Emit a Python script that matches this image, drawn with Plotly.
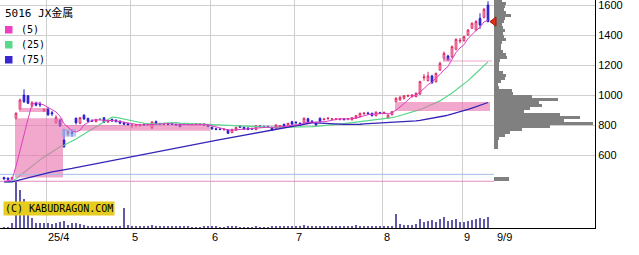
import numpy as np
import pandas as pd
import plotly.graph_objects as go

# ---------------- data ----------------
title_text = "5016 JX金属"
opens = [450, 446, 440, 845, 905, 1000, 995, 927, 945, 940,
         893, 905, 882, 815, 833, 700, 742, 750, 845, 812,
         865, 843, 830, 822, 838, 848, 820, 838, 832, 826,
         815, 810, 797, 797, 797, 805, 802, 780, 822, 808,
         803, 808, 810, 803, 805, 808, 807, 803, 808, 803,
         805, 798, 785, 775, 773, 768, 767, 750, 765, 792,
         785, 780, 775, 770, 792, 790, 789, 783, 771, 780,
         804, 786, 822, 818, 811, 818, 842, 826, 818, 845,
         836, 842, 838, 838, 837, 840, 838, 835, 845, 855,
         875, 880, 878, 862, 882, 880, 846, 868, 955, 967,
         978, 993, 990, 989, 1007, 1115, 1096, 1127, 1089, 1167,
         1245, 1260, 1255, 1305, 1360, 1362, 1400, 1445, 1433, 1511,
         1518, 1600]
highs = [455, 450, 455, 885, 975, 1038, 1000, 960, 955, 955,
         910, 918, 893, 865, 840, 775, 762, 762, 850, 853,
         872, 850, 838, 842, 845, 852, 835, 842, 838, 830,
         820, 815, 805, 805, 808, 812, 812, 825, 830, 815,
         812, 815, 815, 808, 810, 812, 812, 812, 812, 810,
         810, 802, 790, 782, 780, 778, 772, 775, 790, 798,
         790, 785, 782, 800, 800, 795, 795, 790, 805, 800,
         810, 815, 828, 825, 818, 850, 848, 832, 822, 850,
         845, 850, 846, 846, 845, 845, 846, 852, 865, 882,
         885, 888, 882, 890, 888, 888, 870, 893, 985, 992,
         1000, 1003, 1005, 1018, 1095, 1140, 1155, 1135, 1150, 1222,
         1290, 1268, 1330, 1378, 1380, 1395, 1440, 1485, 1500, 1545,
         1580, 1625]
lows = [436, 434, 436, 835, 900, 948, 940, 915, 925, 920,
        888, 862, 860, 808, 788, 648, 725, 722, 803, 805,
        835, 818, 820, 818, 832, 815, 815, 822, 818, 805,
        800, 795, 780, 785, 788, 795, 795, 775, 803, 800,
        798, 800, 800, 795, 785, 800, 800, 798, 800, 798,
        795, 785, 768, 765, 765, 762, 740, 745, 760, 780,
        768, 765, 768, 765, 785, 780, 780, 760, 768, 775,
        780, 783, 800, 808, 792, 812, 818, 815, 795, 818,
        830, 835, 832, 832, 830, 830, 832, 830, 840, 850,
        868, 870, 858, 858, 872, 872, 842, 865, 953, 960,
        970, 985, 982, 985, 1000, 1095, 1090, 1075, 1082, 1160,
        1232, 1228, 1245, 1298, 1345, 1355, 1395, 1440, 1425, 1440,
        1510, 1485]
closes = [440, 438, 450, 878, 967, 955, 945, 948, 932, 935,
          905, 868, 875, 851, 793, 655, 758, 745, 815, 849,
          840, 825, 826, 836, 838, 818, 832, 826, 822, 812,
          805, 800, 800, 801, 800, 802, 806, 820, 808, 805,
          807, 805, 804, 800, 789, 805, 805, 807, 805, 807,
          800, 790, 775, 771, 770, 772, 745, 771, 783, 785,
          772, 770, 773, 793, 789, 787, 786, 766, 800, 796,
          786, 811, 805, 815, 796, 845, 822, 822, 800, 822,
          840, 846, 841, 841, 841, 836, 842, 849, 862, 878,
          879, 876, 862, 886, 878, 884, 866, 889, 978, 985,
          995, 996, 1000, 1011, 1089, 1120, 1127, 1082, 1144, 1211,
          1278, 1233, 1322, 1371, 1364, 1389, 1433, 1478, 1489, 1467,
          1571, 1489]
volumes = [20, 20, 100, 912, 760, 580, 360, 200, 110, 110,
           100, 100, 90, 100, 130, 140, 70, 110, 110, 80,
           70, 50, 40, 40, 40, 40, 30, 30, 30, 30,
           400, 60, 40, 30, 30, 30, 30, 60, 40, 30,
           25, 30, 25, 25, 35, 25, 25, 20, 20, 20,
           25, 25, 30, 25, 20, 20, 30, 25, 25, 20,
           20, 20, 20, 25, 20, 20, 20, 25, 30, 25,
           25, 50, 30, 25, 30, 65, 35, 25, 30, 45,
           50, 40, 30, 25, 25, 25, 30, 35, 60, 50,
           40, 30, 30, 35, 40, 30, 35, 45, 280, 80,
           70, 60, 60, 90, 180, 120, 140, 160, 120, 180,
           220, 140, 160, 180, 120, 120, 140, 160, 180, 200,
           180, 220]

month_labels = ["25/4", "5", "6", "7", "8", "9"]
month_start_idx = [11, 32, 52, 73, 95, 115]
last_date_label = "9/9"

ma_periods = [5, 25, 75]
ma_seed_close = 420  # price level assumed before the first bar

# price-volume profile (price bin centre, volume)
profile_prices = [1630, 1610, 1590, 1570, 1550, 1530, 1510, 1490, 1470, 1450,
                  1430, 1410, 1390, 1370, 1350, 1330, 1310, 1290, 1270, 1250,
                  1230, 1210, 1190, 1170, 1150, 1130, 1110, 1090, 1070, 1050,
                  1030, 1010, 990, 970, 950, 930, 910, 890, 870, 850,
                  830, 810, 790, 770, 750, 730, 710, 690, 670, 650, 440]
profile_volumes = [8, 12, 11, 10, 12, 17, 11, 10, 8, 9,
                   11, 9, 10, 12, 8, 7, 7, 9, 12, 13,
                   6, 5, 5, 5, 9, 12, 11, 7, 4, 5,
                   18, 19, 38, 64, 45, 48, 36, 30, 66, 86,
                   70, 99, 56, 28, 16, 11, 5, 4, 4, 4, 15]

# unfilled price gaps ("windows")
gap_from = [2.75, 3.75, 14.75, 97.75, 109.75, 109.75, 14.5]
gap_to = [14.75, 10.75, 51.5, 121.5, 122.0, 111.75, 18.0]
gap_low = [450, 887, 762, 893, 1224, 1222, 722]
gap_high = [845, 913, 800, 953, 1230, 1245, 772]
gap_up = [True, True, True, True, True, True, False]

ref_levels = [471, 425]

# ---------------- styles ----------------
UP = "#e0205e"
DOWN = "#2a1cd4"
DOJI = "#1fae4a"
MA_COL = {5: "#e03cc2", 25: "#5bd68c", 75: "#3424b8"}
LEG_COL = {5: "#ee3fbf", 25: "#5ad98b", 75: "#3a26d0"}
REF_COL = ["#a3bfea", "#e48cbc"]
GRID = "#cfcfcf"
PLOT_W, PLOT_H = 595, 228

n = len(closes)
idx = np.arange(n)
o = np.array(opens, float); h = np.array(highs, float)
l = np.array(lows, float); c = np.array(closes, float)

seed = [ma_seed_close] * (max(ma_periods) - 1)
ext = pd.Series(seed + closes, dtype=float)
ma = {p: ext.rolling(p).mean().to_numpy()[len(seed):] for p in ma_periods}

fig = go.Figure()

# MA25 (under the gap windows)
fig.add_trace(go.Scatter(x=idx, y=ma[25], mode="lines",
                         line=dict(color=MA_COL[25], width=1.2)))

# gap windows
for up_flag, fillc in [(True, "rgba(232,110,170,0.6)"), (False, "rgba(138,172,230,0.6)")]:
    xs, ys = [], []
    for x0, x1, lo, hi, u in zip(gap_from, gap_to, gap_low, gap_high, gap_up):
        if u != up_flag:
            continue
        xs += [x0, x1, x1, x0, x0, None]
        ys += [lo, lo, hi, hi, lo, None]
    fig.add_trace(go.Scatter(x=xs, y=ys, mode="lines", fill="toself",
                             fillcolor=fillc, line=dict(width=0)))

# reference horizontal lines
for lev, col in zip(ref_levels, REF_COL):
    fig.add_trace(go.Scatter(x=[-1, n + 0.5], y=[lev, lev], mode="lines",
                             line=dict(color=col, width=1)))

# MA75
fig.add_trace(go.Scatter(x=idx, y=ma[75], mode="lines",
                         line=dict(color=MA_COL[75], width=1.3)))

# candles
masks = [(c > o, UP, "white", UP), (c < o, DOWN, DOWN, DOWN), (c == o, DOJI, DOJI, DOJI)]
for m, lc, fc_up, fc_dn in masks:
    if not m.any():
        continue
    fig.add_trace(go.Candlestick(
        x=idx[m], open=o[m], high=h[m], low=l[m], close=c[m],
        increasing=dict(line=dict(color=lc, width=1), fillcolor=fc_up),
        decreasing=dict(line=dict(color=lc, width=1), fillcolor=fc_dn),
        whiskerwidth=0, hoverinfo="skip"))

# MA5
fig.add_trace(go.Scatter(x=idx, y=ma[5], mode="lines",
                         line=dict(color=MA_COL[5], width=1)))

# volume bars
fig.add_trace(go.Bar(x=idx, y=volumes, xaxis="x", yaxis="y2", width=0.25,
                     marker=dict(color="#6058a8", line=dict(width=0))))

# volume profile
fig.add_trace(go.Bar(y=profile_prices, x=profile_volumes, base=0, orientation="h",
                     xaxis="x2", yaxis="y", width=21,
                     marker=dict(color="#808080", line=dict(width=0))))

# current price marker
fig.add_trace(go.Scatter(x=[0], y=[closes[-1]], xaxis="x2", yaxis="y", mode="markers",
                         marker=dict(symbol="triangle-left", size=8, color="#e0301a",
                                     line=dict(color="#a01808", width=1))))

# ---------------- annotations ----------------
ann = []
for lab, m in zip(month_labels, month_start_idx):
    ann.append(dict(x=m - 0.5, xref="x", y=0, yref="paper", text=lab, showarrow=False,
                    xanchor="left", yanchor="top", xshift=0, yshift=-1,
                    font=dict(family="Liberation Sans", size=11, color="black")))
ann.append(dict(x=1, xref="x2", y=0, yref="paper", text=last_date_label, showarrow=False,
                xanchor="left", yanchor="top", yshift=-1,
                font=dict(family="Liberation Sans", size=11, color="black")))


def px2paper(px, py):
    return px / PLOT_W, 1 - py / PLOT_H


tx, ty = px2paper(3, 14)
ann.append(dict(x=tx, y=ty, xref="paper", yref="paper", text=title_text, showarrow=False,
                xanchor="left", yanchor="middle",
                font=dict(family="DejaVu Sans Mono, Noto Sans CJK JP", size=11, color="black")))
shapes = []
for k, p in enumerate(ma_periods):
    top = 26 + 15 * k
    x0, y0 = px2paper(5, top)
    x1, y1 = px2paper(12.5, top + 7.5)
    shapes.append(dict(type="rect", xref="paper", yref="paper", x0=x0, x1=x1, y0=y1, y1=y0,
                       fillcolor=LEG_COL[p], line=dict(width=0)))
    lx, ly = px2paper(19, top + 3.8)
    ann.append(dict(x=lx, y=ly, xref="paper", yref="paper", text=f"({p})", showarrow=False,
                    xanchor="left", yanchor="middle",
                    font=dict(family="DejaVu Sans Mono", size=10, color="black")))

cx, cy = px2paper(3, 208)
ann.append(dict(x=cx, y=cy, xref="paper", yref="paper", text="(C) KABUDRAGON.COM",
                showarrow=False, xanchor="left", yanchor="middle", bgcolor="#e6cc1e",
                borderpad=1,
                font=dict(family="DejaVu Sans Mono", size=10, color="black")))

fig.update_layout(
    width=639, height=255, margin=dict(l=0, r=44, t=0, b=27),
    paper_bgcolor="white", plot_bgcolor="white", showlegend=False,
    hovermode=False, boxgap=0.4, bargap=0,
    annotations=ann, shapes=shapes,
    xaxis=dict(range=[-1, 147.75], tickvals=[m - 0.5 for m in month_start_idx],
               showticklabels=False, ticks="", showgrid=True, gridcolor=GRID, gridwidth=1,
               zeroline=False, showline=True, linecolor="black", linewidth=1,
               rangeslider=dict(visible=False), fixedrange=True),
    yaxis=dict(side="right", range=[113.33, 1633.33], tickvals=list(range(600, 1601, 200)),
               showgrid=True, gridcolor=GRID, gridwidth=1, zeroline=False,
               showline=True, linecolor="black", linewidth=1, ticks="",
               ticklabeloverflow="allow",
               tickfont=dict(family="Liberation Sans", size=11, color="black"),
               fixedrange=True),
    yaxis2=dict(overlaying="y", anchor="x", range=[0, 4560], visible=False,
                showgrid=False, fixedrange=True),
    xaxis2=dict(overlaying="x", anchor="y", range=[-494, 101], visible=False,
                showgrid=False, fixedrange=True),
)

fig.write_html("out.html")
